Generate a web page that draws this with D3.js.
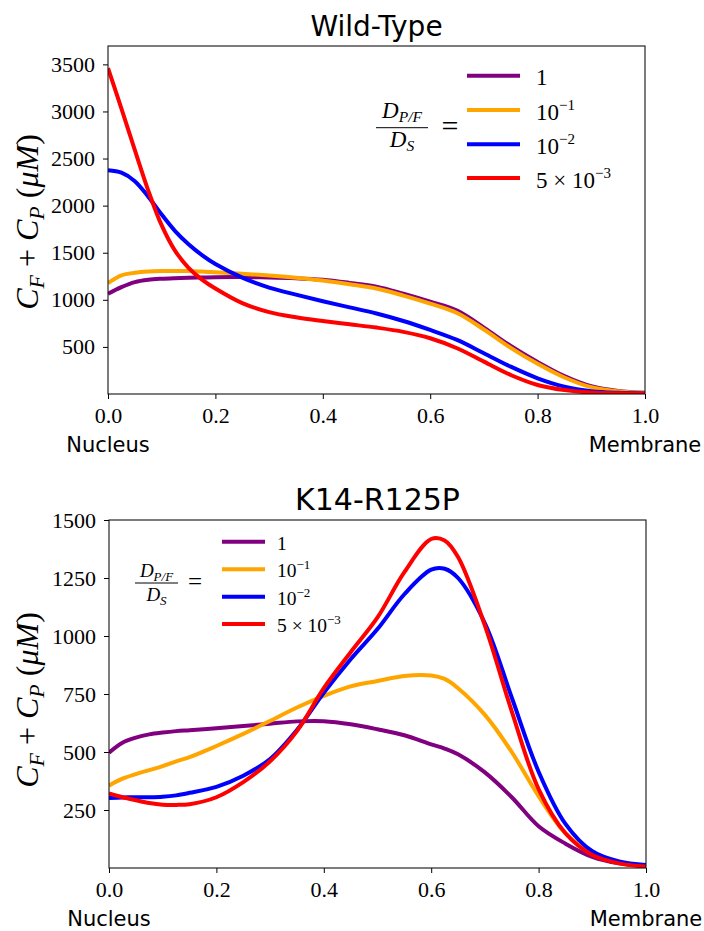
<!DOCTYPE html>
<html><head><meta charset="utf-8">
<script src="https://cdn.jsdelivr.net/npm/d3@7"></script>
<style>body{margin:0;background:#fff}</style>
</head><body>
<svg id="chart" width="704" height="931"></svg>
<script>
// ---------- data ----------
const xTickValues = [0, 0.2, 0.4, 0.6, 0.8, 1.0];
const wtYTicks = [500, 1000, 1500, 2000, 2500, 3000, 3500];
const kYTicks = [250, 500, 750, 1000, 1250, 1500];
const seriesNames = ["1", "10^-1", "10^-2", "5x10^-3"];
const seriesColors = ["#800080", "#FFA500", "#0000FF", "#FF0000"];

// Wild-Type
const wtX      = [0, 0.025, 0.05, 0.075, 0.1, 0.125, 0.15, 0.175, 0.2, 0.25, 0.3, 0.35, 0.4, 0.45, 0.5, 0.55, 0.6, 0.65, 0.7, 0.75, 0.8, 0.85, 0.9, 0.95, 1.0];
const wtPurple = [1064, 1135, 1188, 1213, 1224, 1230, 1234, 1237, 1240, 1241, 1238, 1230, 1213, 1180, 1140, 1065, 980, 885, 705, 510, 340, 190, 82, 32, 12];
const wtOrange = [1177, 1259, 1287, 1300, 1305, 1306, 1305, 1300, 1294, 1277, 1259, 1235, 1205, 1165, 1120, 1045, 960, 860, 685, 490, 320, 175, 72, 28, 10];
const wtBlue   = [2376, 2350, 2260, 2095, 1905, 1730, 1590, 1475, 1380, 1235, 1130, 1055, 985, 920, 855, 775, 680, 574, 433, 290, 167, 78, 30, 12, 5];
const wtRed    = [3460, 3030, 2590, 2160, 1790, 1520, 1340, 1215, 1120, 965, 870, 815, 775, 740, 705, 660, 592, 486, 344, 202, 96, 42, 15, 7, 5];

// K14-R125P
const kX      = [0, 0.025, 0.05, 0.075, 0.1, 0.125, 0.15, 0.2, 0.25, 0.3, 0.35, 0.4, 0.45, 0.5, 0.55, 0.6, 0.625, 0.65, 0.7, 0.75, 0.8, 0.85, 0.9, 0.95, 1.0];
const kPurple = [497, 540, 562, 576, 584, 590, 594, 602, 612, 622, 632, 633, 620, 598, 572, 533, 515, 490, 412, 305, 180, 105, 48, 20, 10];
const kOrange = [355, 385, 405, 422, 439, 460, 478, 526, 578, 634, 692, 742, 783, 806, 828, 830, 815, 775, 660, 500, 310, 150, 64, 23, 10];
const kBlue   = [302, 304, 305, 305, 307, 313, 324, 350, 398, 470, 595, 755, 900, 1030, 1180, 1286, 1290, 1250, 1055, 735, 415, 190, 72, 28, 13];
const kRed    = [321, 305, 292, 280, 273, 272, 275, 305, 370, 460, 590, 775, 930, 1080, 1275, 1418, 1412, 1340, 1045, 675, 340, 150, 56, 20, 6];

// ---------- drawing ----------
const svg = d3.select("#chart");
const SERIF = "'Liberation Serif', 'DejaVu Serif', serif";
const SANS = "'DejaVu Sans', sans-serif";

function richText(sel, parts) {
  let shift = 0;
  parts.forEach(p => {
    const ts = sel.append("tspan").text(p.t);
    if (p.it) ts.style("font-style", "italic");
    let target = 0;
    if (p.sub) target = p.sub;
    if (p.sup) target = -p.sup;
    ts.attr("dy", target - shift);
    shift = target;
    if (p.size) ts.style("font-size", p.size + "px");
  });
}

function legendLabel(name) {
  if (name === "1") return [{t: "1"}];
  if (name === "10^-1") return [{t: "10"}, {t: "−1", sup: 1}];
  if (name === "10^-2") return [{t: "10"}, {t: "−2", sup: 1}];
  return [{t: "5 × 10"}, {t: "−3", sup: 1}];
}

function panel(cfg) {
  const x = d3.scaleLinear().domain([0, 1]).range([cfg.left, cfg.right]);
  const y = d3.scaleLinear().domain(cfg.yDomain).range([cfg.bottom, cfg.top]);
  const g = svg.append("g");

  const clipId = "clip" + cfg.id;
  svg.append("clipPath").attr("id", clipId).append("rect")
    .attr("x", cfg.left).attr("y", cfg.top)
    .attr("width", cfg.right - cfg.left).attr("height", cfg.bottom - cfg.top);

  const line = d3.line().x(d => x(d[0])).y(d => y(d[1])).curve(d3.curveCatmullRom.alpha(0.5));
  const lg = g.append("g").attr("clip-path", `url(#${clipId})`);
  cfg.series.forEach((vals, i) => {
    lg.append("path").datum(cfg.xs.map((xv, j) => [xv, vals[j]]))
      .attr("d", line).attr("fill", "none")
      .attr("stroke", seriesColors[i]).attr("stroke-width", 4)
      .attr("stroke-linejoin", "round").attr("stroke-linecap", "butt");
  });

  // axes
  const xa = g.append("g").attr("transform", `translate(0,${cfg.bottom})`)
    .call(d3.axisBottom(x).tickValues(xTickValues).tickFormat(d3.format(".1f"))
      .tickSize(5).tickSizeOuter(0).tickPadding(8.5));
  const ya = g.append("g").attr("transform", `translate(${cfg.left},0)`)
    .call(d3.axisLeft(y).tickValues(cfg.yTicks).tickFormat(d3.format("d"))
      .tickSize(5).tickSizeOuter(0).tickPadding(8));
  [xa, ya].forEach(a => {
    a.select(".domain").remove();
    a.selectAll("line").attr("stroke", "#000").attr("stroke-width", 1);
    a.selectAll("text").style("font-family", SERIF).style("font-size", "22px").attr("fill", "#000");
  });

  // frame
  g.append("rect").attr("x", cfg.left).attr("y", cfg.top)
    .attr("width", cfg.right - cfg.left).attr("height", cfg.bottom - cfg.top)
    .attr("fill", "none").attr("stroke", "#111").attr("stroke-width", 1.1);

  // title
  g.append("text").attr("x", (cfg.left + cfg.right) / 2).attr("y", cfg.titleY)
    .attr("text-anchor", "middle").style("font-family", SANS)
    .style("font-size", cfg.titleSize + "px").text(cfg.title);

  // Nucleus / Membrane
  g.append("text").attr("x", x(0)).attr("y", cfg.bottom + 58).attr("text-anchor", "middle")
    .style("font-family", SANS).style("font-size", "21px").text("Nucleus");
  g.append("text").attr("x", x(1)).attr("y", cfg.bottom + 58).attr("text-anchor", "middle")
    .style("font-family", SANS).style("font-size", "21px").text("Membrane");

  // y label
  const yl = g.append("text")
    .attr("transform", `translate(38,${(cfg.top + cfg.bottom) / 2 + cfg.ylShift}) rotate(-90)`)
    .attr("text-anchor", "middle").style("font-family", SERIF).style("font-size", "32px");
  richText(yl, [
    {t: "C", it: 1}, {t: "F", it: 1, sub: 6, size: 22},
    {t: " + "}, {t: "C", it: 1}, {t: "P", it: 1, sub: 6, size: 22},
    {t: " ("}, {t: "μM", it: 1}, {t: ")"}
  ]);

  // legend
  const L = cfg.legend;
  L.ys.forEach((ly, i) => {
    g.append("line").attr("x1", L.x1).attr("x2", L.x2).attr("y1", ly).attr("y2", ly)
      .attr("stroke", seriesColors[i]).attr("stroke-width", 4);
    const t = g.append("text").attr("x", L.tx).attr("y", ly + L.base)
      .style("font-family", SERIF).style("font-size", L.fs + "px");
    const parts = legendLabel(seriesNames[i]).map(p => p.sup ? {t: p.t, sup: L.supShift, size: L.supFs} : p);
    richText(t, parts);
  });
  // fraction
  const F = L.frac;
  const num = g.append("text").attr("x", F.cx).attr("y", F.numY).attr("text-anchor", "middle")
    .style("font-family", SERIF).style("font-size", F.fs + "px");
  richText(num, [{t: "D", it: 1}, {t: "P/F", it: 1, sub: F.subShift, size: F.subFs}]);
  const den = g.append("text").attr("x", F.cx).attr("y", F.denY).attr("text-anchor", "middle")
    .style("font-family", SERIF).style("font-size", F.fs + "px");
  richText(den, [{t: "D", it: 1}, {t: "S", it: 1, sub: F.subShift, size: F.subFs}]);
  g.append("line").attr("x1", F.x1).attr("x2", F.x2).attr("y1", F.barY).attr("y2", F.barY)
    .attr("stroke", "#000").attr("stroke-width", 1);
  g.append("text").attr("x", F.eqX).attr("y", F.eqY).attr("text-anchor", "middle")
    .style("font-family", SERIF).style("font-size", F.eqFs + "px").text("=");
}

panel({
  id: "wt", left: 108, right: 645, top: 46, bottom: 394, ylShift: 2,
  yDomain: [0, 3695], yTicks: wtYTicks, title: "Wild-Type", titleY: 36, titleSize: 28,
  xs: wtX, series: [wtPurple, wtOrange, wtBlue, wtRed],
  legend: {
    x1: 467, x2: 520, tx: 536, ys: [75.7, 110, 144.3, 178], base: 9.5, fs: 23, supFs: 15, supShift: 9.5,
    frac: {cx: 402, x1: 376, x2: 428, barY: 127.7, numY: 118, denY: 147, fs: 23, subFs: 15.5, subShift: 4,
           eqX: 450, eqY: 136, eqFs: 30}
  }
});

panel({
  id: "k", left: 109, right: 646, top: 520, bottom: 868, ylShift: 6,
  yDomain: [0, 1500], yTicks: kYTicks, title: "K14-R125P", titleY: 510, titleSize: 30,
  xs: kX, series: [kPurple, kOrange, kBlue, kRed],
  legend: {
    x1: 222, x2: 265, tx: 277, ys: [541.7, 569.3, 596.7, 624], base: 8, fs: 19.5, supFs: 13, supShift: 8,
    frac: {cx: 156.5, x1: 135, x2: 178, barY: 583, numY: 577, denY: 601, fs: 19, subFs: 13, subShift: 3.5,
           eqX: 195, eqY: 590, eqFs: 25}
  }
});
</script>
</body></html>
